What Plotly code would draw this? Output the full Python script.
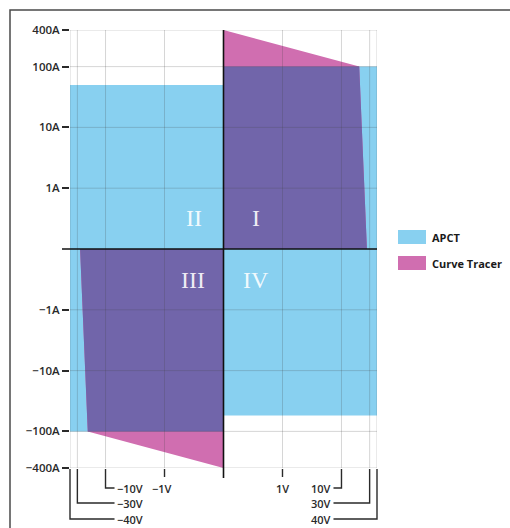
import numpy as np
import plotly.graph_objects as go

# ---------------- data ----------------
volt_ticks = [-40, -30, -10, -1, 1, 10, 30, 40]
volt_labels = ["−40V", "−30V", "−10V", "−1V", "1V", "10V", "30V", "40V"]
amp_ticks = [-400, -100, -10, -1, 1, 10, 100, 400]
amp_labels = ["−400A", "−100A", "−10A", "−1A", "1A", "10A", "100A", "400A"]

# APCT safe-operating area (volts, amps) - single polygon over 4 quadrants
apct_volts = [-40, 0, 0, 40, 40, 0, 0, -40, -40]
apct_amps = [50, 50, 100, 100, -55, -55, -100, -100, 50]

# Curve tracer area (quadrants I and III), None separates the two polygons
tracer_volts = [0, 0, 20, 27, 0, None, 0, 0, -20, -27, 0]
tracer_amps = [0, 400, 100, 0, 0, None, 0, -400, -100, 0, 0]

quadrant_labels = ["I", "II", "III", "IV"]
series_names = ["APCT", "Curve Tracer"]

# ---------------- scale (signed decades, 0 -> 0, 1 -> 1 decade) ----------------
def T(v):
    if v is None:
        return None
    if v == 0:
        return 0.0
    return float(np.sign(v) * (1 + np.log10(abs(v))))

def TL(vals):
    return [T(v) for v in vals]

amp_lo, amp_hi = min(apct_amps), max(apct_amps)
overlap_amps = [None if a is None else min(max(a, amp_lo), amp_hi) for a in tracer_amps]

BLUE = "rgb(136,208,240)"
MAGENTA = "rgb(208,110,176)"
PURPLE = "rgb(113,101,170)"

X0, X1 = T(min(volt_ticks)), T(max(volt_ticks))
Y0, Y1 = T(min(amp_ticks)), T(max(amp_ticks))

W_FIG, H_FIG = 510, 528
ML, MT = 70, 30
PW, PH = 307, 438
MR = W_FIG - ML - PW
MB = H_FIG - MT - PH

def xpx(t):
    return ML + (t - X0) / (X1 - X0) * PW

def px2paper_x(p):
    return (p - ML) / PW

def px2paper_y(p):
    return 1 - (p - MT) / PH

fig = go.Figure()
fig.add_trace(go.Scatter(x=TL(apct_volts), y=TL(apct_amps), mode="lines", fill="toself",
                         fillcolor=BLUE, line=dict(width=0, color=BLUE),
                         name=series_names[0], showlegend=False, hoverinfo="skip"))
fig.add_trace(go.Scatter(x=TL(tracer_volts), y=TL(tracer_amps), mode="lines", fill="toself",
                         fillcolor=MAGENTA, line=dict(width=0, color=MAGENTA),
                         name=series_names[1], showlegend=False, hoverinfo="skip"))
fig.add_trace(go.Scatter(x=TL(tracer_volts), y=TL(overlap_amps), mode="lines", fill="toself",
                         fillcolor=PURPLE, line=dict(width=0, color=PURPLE),
                         name="overlap", showlegend=False, hoverinfo="skip"))

shapes = []
GRID = "rgba(70,70,70,0.22)"
DARK = "#2a2a2a"
LABEL_FONT = dict(family="Open Sans", size=11, color=DARK, weight=600)

# grid lines (above the fills)
for v in volt_ticks:
    shapes.append(dict(type="line", xref="x", yref="paper", x0=T(v), x1=T(v), y0=0, y1=1,
                       line=dict(color=GRID, width=1), layer="above"))
for a in amp_ticks:
    shapes.append(dict(type="line", xref="paper", yref="y", x0=0, x1=1, y0=T(a), y1=T(a),
                       line=dict(color=GRID, width=1), layer="above"))

# zero axes
shapes.append(dict(type="line", xref="paper", yref="y", x0=px2paper_x(ML - 8), x1=1, y0=0, y1=0,
                   line=dict(color="#111", width=1.6), layer="above"))
shapes.append(dict(type="line", xref="x", yref="paper", x0=0, x1=0, y0=1, y1=px2paper_y(MT + PH + 10),
                   line=dict(color="#111", width=1.6), layer="above"))

# x-axis bracket ticks and labels
annotations = []
bottom = MT + PH + 1
levels = {1: 488, 10: 488, 30: 503, 40: 519}
left_col = xpx(T(-10)) + 9
right_col = xpx(T(10)) - 8
for v, lab in zip(volt_ticks, volt_labels):
    xp = xpx(T(v))
    av = abs(v)
    ly = levels[av]
    if av == 1:
        shapes.append(dict(type="line", xref="paper", yref="paper",
                           x0=px2paper_x(xp), x1=px2paper_x(xp),
                           y0=px2paper_y(bottom), y1=px2paper_y(bottom + 8),
                           line=dict(color=DARK, width=1.4)))
        annotations.append(dict(x=px2paper_x(xp - (3 if v < 0 else 0)), y=px2paper_y(ly),
                                xref="paper", yref="paper", text=lab, showarrow=False,
                                xanchor="center", yanchor="middle", borderpad=0,
                                font=LABEL_FONT))
    else:
        col = left_col if v < 0 else right_col
        shapes.append(dict(type="path", xref="paper", yref="paper",
                           path="M{},{} L{},{} L{},{}".format(
                               px2paper_x(xp), px2paper_y(bottom), px2paper_x(xp), px2paper_y(ly),
                               px2paper_x(col), px2paper_y(ly)),
                           line=dict(color=DARK, width=1.4)))
        annotations.append(dict(x=px2paper_x(col + (1 if v < 0 else -1)), y=px2paper_y(ly),
                                xref="paper", yref="paper", text=lab, showarrow=False,
                                xanchor="left" if v < 0 else "right", yanchor="middle", borderpad=0,
                                font=LABEL_FONT))

# quadrant numerals
quad_pos = {"I": (0.55, 0.51), "II": (-0.5, 0.51), "III": (-0.52, -0.51), "IV": (0.55, -0.51)}
for q in quadrant_labels:
    qx, qy = quad_pos[q]
    annotations.append(dict(x=qx, y=qy, xref="x", yref="y", text=q, showarrow=False,
                            xanchor="center", yanchor="middle",
                            font=dict(family="Liberation Serif", size=24, color="rgba(255,255,255,0.9)")))

# legend (custom swatches)
legend_rows = [(series_names[0], BLUE, 237), (series_names[1], MAGENTA, 263)]
for name, col, cy in legend_rows:
    shapes.append(dict(type="rect", xref="paper", yref="paper",
                       x0=px2paper_x(398), x1=px2paper_x(426),
                       y0=px2paper_y(cy - 7), y1=px2paper_y(cy + 7),
                       fillcolor=col, line=dict(width=0)))
    annotations.append(dict(x=px2paper_x(431), y=px2paper_y(cy), xref="paper", yref="paper",
                            text="<b>" + name + "</b>", showarrow=False, xanchor="left", yanchor="middle",
                            borderpad=0,
                            font=dict(family="Open Sans", size=11, color="#1a1a1a")))

# outer frame
shapes.append(dict(type="rect", xref="paper", yref="paper",
                   x0=px2paper_x(10), x1=px2paper_x(W_FIG + 10),
                   y0=px2paper_y(H_FIG + 10), y1=px2paper_y(10),
                   line=dict(color="#4a4a4a", width=1.5), fillcolor="rgba(0,0,0,0)"))

fig.update_layout(
    width=W_FIG, height=H_FIG,
    margin=dict(l=ML, r=MR, t=MT, b=MB),
    paper_bgcolor="white", plot_bgcolor="white",
    showlegend=False,
    shapes=shapes, annotations=annotations,
    xaxis=dict(range=[X0, X1], showgrid=False, zeroline=False, showticklabels=False,
               ticks="", showline=False, fixedrange=True),
    yaxis=dict(range=[Y0, Y1], showgrid=False, zeroline=False, showline=False,
               tickvals=TL(amp_ticks), ticktext=amp_labels, ticks="outside", ticklen=7,
               tickwidth=1.5, tickcolor=DARK,
               tickfont=dict(family="Open Sans", size=11.5, color=DARK, weight=600), fixedrange=True),
)

fig.write_html("out.html", config={"displayModeBar": False})
